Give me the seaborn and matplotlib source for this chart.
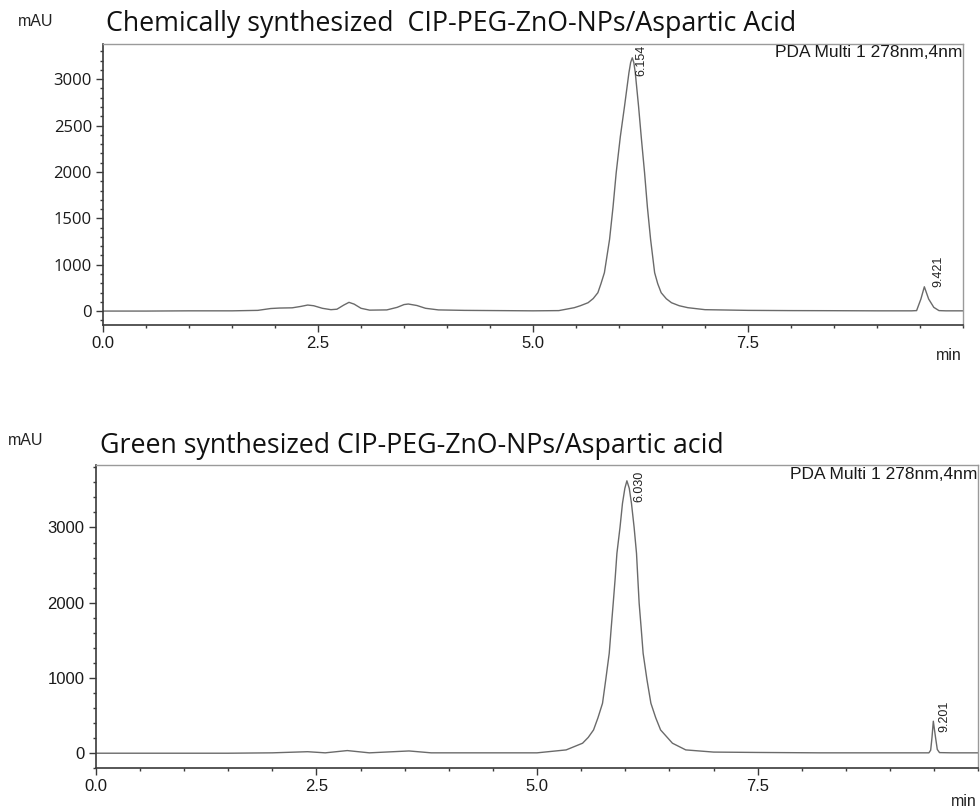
import numpy as np
import matplotlib
matplotlib.use("Agg")
import matplotlib.pyplot as plt
import seaborn as sns

# ---------------- data ----------------
top_title = "Chemically synthesized  CIP-PEG-ZnO-NPs/Aspartic Acid"
bot_title = "Green synthesized CIP-PEG-ZnO-NPs/Aspartic acid"
detector = "PDA Multi 1 278nm,4nm"

top_t = [0.0, 0.5, 1.0, 1.5, 1.8, 1.95, 2.05, 2.2, 2.3, 2.38, 2.45, 2.55, 2.65, 2.72, 2.8,
         2.86, 2.92, 3.0, 3.1, 3.3, 3.42, 3.5, 3.55, 3.65, 3.75, 3.9, 4.2, 4.6, 5.0, 5.3,
         5.48, 5.55, 5.64, 5.70, 5.754, 5.79, 5.83, 5.89, 5.93, 5.967, 6.015, 6.064, 6.115,
         6.135, 6.154, 6.172, 6.189, 6.227, 6.26, 6.297, 6.33, 6.367, 6.414, 6.45, 6.49, 6.55,
         6.61, 6.70, 6.80, 7.0, 7.5, 8.0, 8.5,
         9.0, 9.40, 9.46, 9.51, 9.55, 9.60, 9.66, 9.72, 9.8, 10.0]
top_v = [0, 0, 5, 5, 15, 55, 65, 70, 100, 130, 115, 60, 30, 40, 130,
         188, 150, 60, 20, 25, 80, 140, 152, 120, 60, 25, 15, 10, 5, 10,
         73, 115, 180, 270, 396, 590, 828, 1273, 1620, 1991, 2380, 2709, 3069,
         3180, 3231, 3180, 3069, 2709, 2360, 1991, 1620, 1273, 828, 590, 396, 265,
         180, 115, 73, 30, 15, 10, 8,
         5, 5, 10, 260, 524, 260, 80, 10, 5, 5]
top_peaks_t = [6.154, 9.55]
top_peaks_v = [3231, 524]
top_peak_labels = ["6.154", "9.421"]

bot_t = [0.0, 0.5, 1.0, 1.5, 2.0, 2.4, 2.6, 2.85, 3.1, 3.55, 3.8, 4.5, 5.0, 5.33, 5.516,
         5.58, 5.64, 5.69, 5.742, 5.78, 5.818, 5.84, 5.863, 5.885, 5.905, 5.94, 5.968, 5.995,
         6.018, 6.045, 6.07, 6.10, 6.127, 6.142, 6.157, 6.18,
         6.202, 6.245, 6.29, 6.345, 6.40, 6.534, 6.685, 7.0, 7.5, 8.2, 9.0, 9.44, 9.46,
         9.475, 9.49, 9.515, 9.535, 9.56, 9.7, 10.0]
bot_v = [0, 0, 0, 0, 5, 20, 5, 35, 5, 30, 5, 5, 5, 44, 133,
         210, 309, 470, 664, 990, 1328, 1660, 1992, 2320, 2656, 3000, 3320, 3520,
         3620, 3520, 3320, 3000, 2656, 2320, 1992, 1660,
         1328, 980, 664, 470, 309, 133, 44, 15, 10, 5, 5, 5, 40,
         210, 425, 210, 50, 8, 5, 5]
bot_peaks_t = [6.018, 9.49]
bot_peaks_v = [3620, 425]
bot_peak_labels = ["6.030", "9.201"]

x_major = [0.0, 2.5, 5.0, 7.5]
x_labels = ["0.0", "2.5", "5.0", "7.5"]
top_y_major = [0, 1000, 1500, 2000, 2500, 3000]
bot_y_major = [0, 1000, 2000, 3000]

# ---------------- styling ----------------
sns.set_style("ticks")
plt.rcParams['font.family'] = ['Liberation Sans', 'DejaVu Sans']

LINE = "#6a6a6a"
AX = "#3a3a3a"
LIGHT = "#9a9a9a"

fig = plt.figure(figsize=(9.8, 8.07), dpi=100)
ax1 = fig.add_axes([0.1051, 0.5973, 0.8776, 0.3482])
ax2 = fig.add_axes([0.0977, 0.0480, 0.9006, 0.3758])


def fwd(y):
    y = np.asarray(y, dtype=float)
    return np.where(y < 1000, y / 2.0, y - 500.0)


def inv(v):
    v = np.asarray(v, dtype=float)
    return np.where(v < 500, v * 2.0, v + 500.0)


sns.lineplot(x=top_t, y=top_v, ax=ax1, color=LINE, linewidth=1.0, estimator=None, sort=False)
sns.lineplot(x=bot_t, y=bot_v, ax=ax2, color=LINE, linewidth=1.0, estimator=None, sort=False)

ax1.set_yscale('function', functions=(fwd, inv))
ax1.set_ylim(-300, 3380)
ax2.set_ylim(-200, 3830)

for ax in (ax1, ax2):
    ax.set_xlim(0, 10)
    ax.set_xticks(x_major)
    ax.set_xticklabels(x_labels)
    ax.set_xticks(np.arange(0, 10.01, 0.5), minor=True)
    ax.set_xlabel("")
    ax.set_ylabel("")
    ax.tick_params(axis='both', which='major', length=5, width=1, color=AX,
                   labelsize=12, labelcolor="#1a1a1a", direction='out', pad=3)
    ax.tick_params(axis='both', which='minor', length=2.5, width=1, color=AX, direction='out')
    for s in ("left", "bottom"):
        ax.spines[s].set_color(AX)
        ax.spines[s].set_linewidth(1.2)
    for s in ("top", "right"):
        ax.spines[s].set_visible(True)
        ax.spines[s].set_color(LIGHT)
        ax.spines[s].set_linewidth(1.0)
    ax.set_facecolor("white")

ax1.set_yticks(top_y_major)
ax1.set_yticklabels([str(v) for v in top_y_major], fontfamily=['Open Sans', 'DejaVu Sans'])
minor1 = [-200, 200, 400, 600, 800] + [v for v in range(1100, 3400, 100) if v % 500 != 0]
ax1.set_yticks(minor1, minor=True)

ax2.set_yticks(bot_y_major)
ax2.set_yticklabels([str(v) for v in bot_y_major])
ax2.set_yticks([v for v in range(-200, 3801, 200) if v % 1000 != 0], minor=True)

# peak labels
for t, v, lab, dx, dy in zip(top_peaks_t, top_peaks_v, top_peak_labels, [6.3, 9.8], [-13.2, 0.0]):
    ax1.annotate(lab, xy=(t, v), xytext=(dx, dy), textcoords='offset points',
                 rotation=90, ha='center', va='bottom', fontsize=9, color="#222222")
for t, v, lab, dx, dy in zip(bot_peaks_t, bot_peaks_v, bot_peak_labels, [9.2, 8.0], [-15.0, -7.9]):
    ax2.annotate(lab, xy=(t, v), xytext=(dx, dy), textcoords='offset points',
                 rotation=90, ha='center', va='bottom', fontsize=9, color="#222222")

# detector labels
for ax in (ax1, ax2):
    ax.text(0.999, 0.995, detector, transform=ax.transAxes, ha='right', va='top',
            fontsize=12.5, color="#1a1a1a")

# titles, units
fig.text(106 / 980, 1 - 24 / 807, top_title, ha='left', va='center', fontsize=19.3,
         fontfamily=['Open Sans', 'DejaVu Sans'], color="#111111")
fig.text(100 / 980, 1 - 446 / 807, bot_title, ha='left', va='center', fontsize=19.3,
         fontfamily=['Open Sans', 'DejaVu Sans'], color="#111111")
fig.text(18 / 980, 1 - 21 / 807, "mAU", ha='left', va='center', fontsize=11.5, color="#222222")
fig.text(8 / 980, 1 - 440 / 807, "mAU", ha='left', va='center', fontsize=11.5, color="#222222")
fig.text(962 / 980, 1 - 355 / 807, "min", ha='right', va='center', fontsize=11.5, color="#222222")
fig.text(977 / 980, 1 - 801 / 807, "min", ha='right', va='center', fontsize=11.5, color="#222222")

fig.savefig("out.png", dpi=100, facecolor="white")
